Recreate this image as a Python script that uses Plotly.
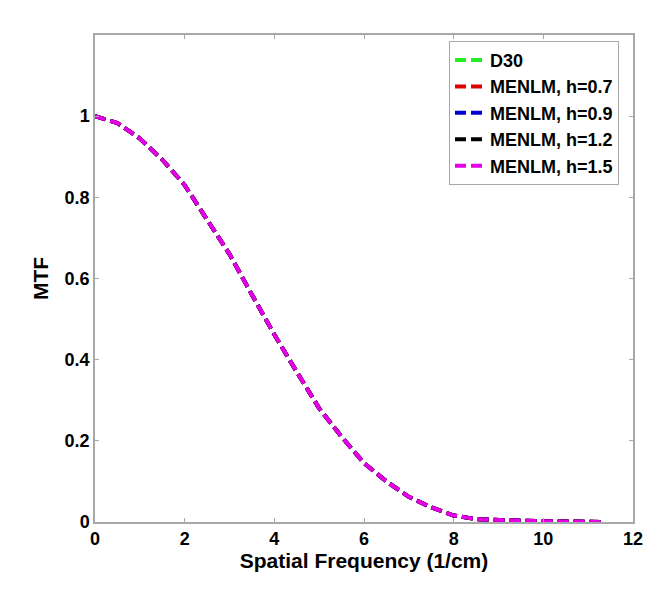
import plotly.graph_objects as go

# ---------------- data ----------------
freq = [0, 0.5, 1.0, 1.5, 2.0, 2.5, 3.0, 3.5, 4.0, 4.5, 5.0, 5.5, 6.0,
        6.5, 7.0, 7.5, 8.0, 8.5, 9.0, 9.5, 10.0, 10.5, 11.0, 11.3]

# all five curves sit on top of each other in the picture
mtf_d30 = [1.0, 0.983, 0.945, 0.893, 0.830, 0.745, 0.660, 0.560, 0.462, 0.370,
           0.280, 0.210, 0.145, 0.100, 0.062, 0.036, 0.016, 0.007, 0.004, 0.003,
           0.002, 0.001, 0.001, 0.0]
mtf_h07 = list(mtf_d30)
mtf_h09 = list(mtf_d30)
mtf_h12 = list(mtf_d30)
mtf_h15 = list(mtf_d30)

names = ["D30", "MENLM, h=0.7", "MENLM, h=0.9", "MENLM, h=1.2", "MENLM, h=1.5"]
colors = ["#22ee22", "#e00000", "#0000d0", "#000000", "#e600e6"]
series = [mtf_d30, mtf_h07, mtf_h09, mtf_h12, mtf_h15]

x_ticks = [0, 2, 4, 6, 8, 10, 12]
y_ticks = [0, 0.2, 0.4, 0.6, 0.8, 1]
y_tick_text = ["0", "0.2", "0.4", "0.6", "0.8", "1"]

FONT = "Liberation Sans, Arial, sans-serif"

fig = go.Figure()
for name, col, ys in zip(names, colors, series):
    fig.add_trace(go.Scatter(x=freq, y=ys, name=name, mode="lines",
                             line=dict(color=col, width=4, dash="11px,5px")))

axis_common = dict(showline=True, linecolor="#a8a8a8", linewidth=1.5, mirror="ticks",
                   ticks="inside", ticklen=4, tickcolor="#a8a8a8",
                   showgrid=False, zeroline=False,
                   tickfont=dict(family=FONT, size=18, color="black", weight="bold"))

fig.update_xaxes(range=[0, 12], tickvals=x_ticks,
                 title=dict(text="Spatial Frequency (1/cm)", standoff=4,
                            font=dict(family=FONT, size=21, color="black", weight="bold")),
                 **axis_common)
fig.update_yaxes(range=[0, 1.2], tickvals=y_ticks, ticktext=y_tick_text,
                 title=dict(text="MTF", standoff=10,
                            font=dict(family=FONT, size=21, color="black", weight="bold")),
                 **axis_common)

fig.update_layout(
    width=658, height=590,
    margin=dict(l=87, r=33, t=27, b=76),
    paper_bgcolor="white", plot_bgcolor="white",
    legend=dict(x=0.658, y=0.988, xanchor="left", yanchor="top",
                bgcolor="white", bordercolor="#a8a8a8", borderwidth=1,
                font=dict(family=FONT, size=18, color="black", weight="bold"),
                tracegroupgap=0, itemwidth=30),
    showlegend=True,
)

fig.write_html("out.html")
